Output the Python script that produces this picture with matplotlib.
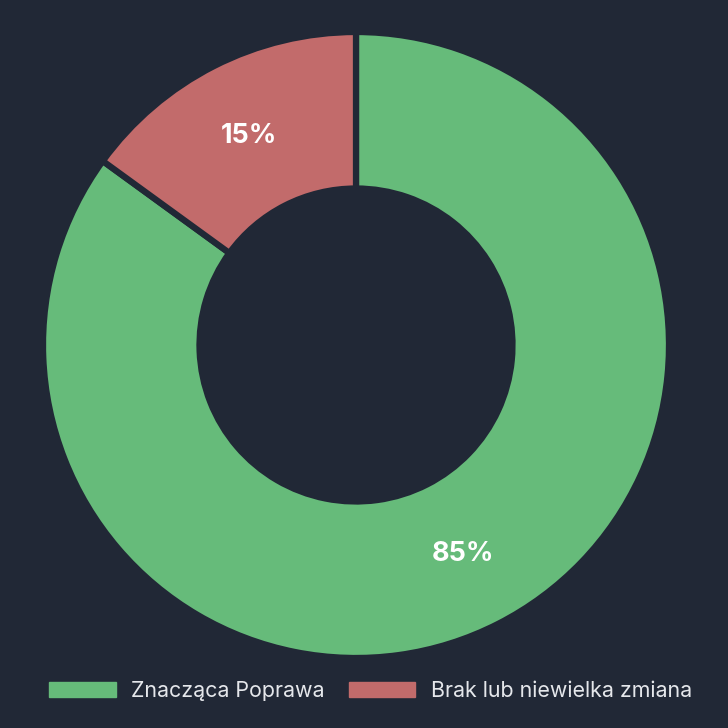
import matplotlib
matplotlib.use("Agg")
import matplotlib.pyplot as plt
from matplotlib.patches import Patch
import numpy as np

labels = ["Znacząca Poprawa", "Brak lub niewielka zmiana"]
values = [85, 15]
colors = ["#66BB7A", "#C26B6B"]
bg = "#212836"

plt.rcParams['font.family'] = ['Inter', 'DejaVu Sans']

fig = plt.figure(figsize=(7.28, 7.28), dpi=100, facecolor=bg)

# donut centre ~ (356, 345) px, outer radius ~313 px incl. border
W = 728.0
cx, cy, r = 356 / W, (W - 345) / W, 313 / W
ax = fig.add_axes([cx - r, cy - r, 2 * r, 2 * r])
ax.set_facecolor(bg)

wedges, _ = ax.pie(values, colors=colors, startangle=90, counterclock=False,
                   radius=1.0, wedgeprops=dict(width=0.5, edgecolor=bg, linewidth=4.5))

# percentage labels in the middle of each ring segment
total = sum(values)
start = 90.0
for v in values:
    ang = np.deg2rad(start - 360 * v / total / 2)
    start -= 360 * v / total
    ax.text(0.75 * np.cos(ang), 0.75 * np.sin(ang), f"{round(100 * v / total)}%",
            ha="center", va="center", color="white", fontsize=19.5, fontweight="bold")

ax.set_xlim(-1, 1)
ax.set_ylim(-1, 1)
ax.set_aspect("equal")
ax.axis("off")

handles = [Patch(facecolor=c, edgecolor=c) for c in colors]
fig.legend(handles, labels, loc="center", bbox_to_anchor=(0.509, 0.051), ncol=2,
           frameon=False, fontsize=15.4, labelcolor="#E5E7EB",
           handlelength=3.1, handleheight=0.67, handletextpad=0.72, columnspacing=1.15)

fig.savefig("out.png", dpi=100, facecolor=bg)
